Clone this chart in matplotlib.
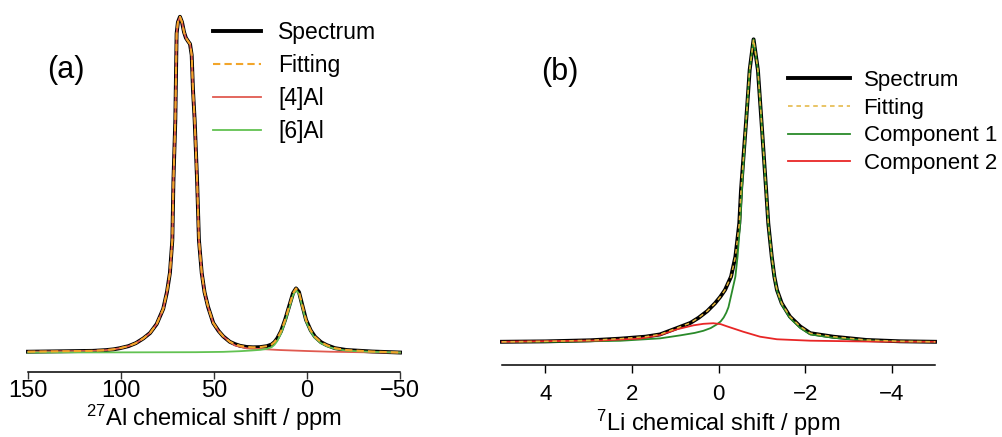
import matplotlib
matplotlib.use("Agg")
import matplotlib.pyplot as plt

plt.rcParams["font.family"] = ["Liberation Sans", "DejaVu Sans"]
plt.rcParams["mathtext.default"] = "regular"

# ---- panel (a): 27Al spectrum (ppm, normalised intensity)
spec_a_ppm = [150, 132.8, 115, 108, 104, 100.5, 96, 92, 88.0, 84.4, 80.8, 77.3, 75.3,
              73.7, 72.4, 71.8, 70.8, 70.1, 69.4, 68.3, 67.2, 66.1, 65.1, 63.8, 62.9,
              62.0, 61.3, 60.4, 59.1, 58.1, 56.6, 55.1, 53.2, 50.4, 47.5, 45.0, 41.5,
              38.7, 36, 32.4, 29, 25.3, 21.5, 19.0, 17.5, 16.0, 14.0, 11.8, 9.1, 7.5,
              5.9, 4.3, 2.8, 0.5, -2, -4.3, -7.5, -10.6, -15, -21.3, -35, -50]
spec_a_int = [0.0024, 0.0036, 0.005, 0.0072, 0.0095, 0.013, 0.019, 0.028, 0.042, 0.058,
              0.085, 0.130, 0.180, 0.237, 0.335, 0.514, 0.692, 0.95, 0.984, 1.0, 0.984,
              0.954, 0.937, 0.926, 0.919, 0.886, 0.782, 0.692, 0.514, 0.335, 0.237,
              0.180, 0.136, 0.088, 0.064, 0.048, 0.032, 0.025, 0.020, 0.0165, 0.0155,
              0.016, 0.019, 0.024, 0.031, 0.042, 0.063, 0.097, 0.147, 0.177, 0.191,
              0.180, 0.147, 0.097, 0.066, 0.047, 0.031, 0.022, 0.013, 0.0074, 0.003, 0.0]
fit_a_ppm = spec_a_ppm
fit_a_int = spec_a_int

al4_ppm = spec_a_ppm[:37] + [38.7, 32.4, 25.0, 14.5, 0.0, -12.4, -30, -50]
al4_int = spec_a_int[:37] + [0.021, 0.0125, 0.0105, 0.0074, 0.0045, 0.0024, 0.0008, 0.0]

al6_ppm = [150, 100, 60, 45, 36, 30, 25, 21.5, 19.0, 17.5, 16.0, 14.0, 11.8, 9.1, 7.5,
           5.9, 4.3, 2.8, 0.5, -2, -4.3, -7.5, -10.6, -15, -21.3, -35, -50]
al6_int = [0.0, 0.0005, 0.001, 0.002, 0.004, 0.006, 0.008, 0.011, 0.016, 0.023, 0.034,
           0.056, 0.09, 0.140, 0.171, 0.186, 0.175, 0.142, 0.092, 0.062, 0.043, 0.028,
           0.019, 0.011, 0.0055, 0.002, 0.0]

# ---- panel (b): 7Li spectrum
spec_b_ppm = [5.0, 4.0, 2.96, 2.27, 1.69, 1.35, 0.96, 0.65, 0.46, 0.26, 0.08, -0.04,
              -0.15, -0.29, -0.39, -0.48, -0.52, -0.64, -0.72, -0.81, -0.91, -0.99,
              -1.10, -1.15, -1.23, -1.29, -1.35, -1.46, -1.65, -1.89, -2.12, -2.65,
              -3.42, -4.19, -5.0]
spec_b_int = [0.0007, 0.002, 0.0056, 0.011, 0.0175, 0.025, 0.046, 0.063, 0.080, 0.102,
              0.128, 0.149, 0.172, 0.216, 0.282, 0.392, 0.502, 0.734, 0.899, 1.0, 0.899,
              0.734, 0.502, 0.392, 0.282, 0.216, 0.172, 0.128, 0.084, 0.051, 0.029,
              0.0175, 0.0066, 0.0023, 0.0007]
fit_b_ppm = spec_b_ppm
fit_b_int = spec_b_int

comp1_ppm = [5.0, 3.65, 2.27, 1.35, 0.88, 0.55, 0.35, 0.18, 0.04, -0.05, -0.12, -0.18,
             -0.23, -0.31, -0.39, -0.44, -0.50, -0.54, -0.64, -0.72, -0.81, -0.91, -0.99,
             -1.10, -1.15, -1.23, -1.29, -1.35, -1.46, -1.65, -1.89, -2.12, -2.65,
             -3.42, -4.19, -5.0]
comp1_int = [0.0, 0.001, 0.004, 0.012, 0.022, 0.030, 0.037, 0.046, 0.058, 0.068, 0.081,
             0.097, 0.115, 0.165, 0.216, 0.282, 0.392, 0.502, 0.734, 0.899, 1.0, 0.899,
             0.734, 0.502, 0.392, 0.282, 0.216, 0.170, 0.124, 0.079, 0.046, 0.025,
             0.014, 0.005, 0.0017, 0.0005]

comp2_ppm = [5.0, 2.73, 1.80, 1.35, 0.96, 0.58, 0.35, 0.12, -0.05, -0.19, -0.57, -0.96,
             -1.35, -2.12, -3.5, -5.0]
comp2_int = [0.0007, 0.005, 0.0116, 0.023, 0.042, 0.055, 0.060, 0.062, 0.059, 0.052,
             0.034, 0.0175, 0.009, 0.0043, 0.0015, 0.0007]

fig = plt.figure(figsize=(10.03, 4.37), dpi=100)

# panel (a)
ax1 = fig.add_axes([28 / 1003, 65 / 437, 372 / 1003, 372 / 437])
ax1.plot(spec_a_ppm, spec_a_int, color="black", lw=2.8, label="Spectrum", clip_on=False)
ax1.plot(al4_ppm, al4_int, color="#e05a50", lw=1.3, label="[4]Al", clip_on=False)
ax1.plot(al6_ppm, al6_int, color="#62c252", lw=1.3, label="[6]Al", clip_on=False)
ax1.plot(fit_a_ppm, fit_a_int, color="#f2a52a", lw=1.5, ls=(0, (3.5, 2)),
         label="Fitting", clip_on=False)
ax1.set_xlim(150, -50)
ax1.set_ylim(-0.058, 1.05)
ax1.set_xticks([150, 100, 50, 0, -50])
ax1.tick_params(axis="x", labelsize=17, length=5, width=1, pad=1, color="#333333")
ax1.set_xlabel(r"$^{27}$Al chemical shift / ppm", fontsize=17, labelpad=0)
fig.text(66 / 1003, 1 - 70 / 437, "(a)", fontsize=22, ha="center", va="center")
h, l = ax1.get_legend_handles_labels()
order = [0, 3, 1, 2]
ax1.legend([h[i] for i in order], [l[i] for i in order], loc="upper left",
           bbox_to_anchor=(213 / 1003, 1 - 21 / 437), bbox_transform=fig.transFigure,
           frameon=False, fontsize=16.5, handlelength=2.1, handletextpad=0.75,
           labelspacing=0.44, borderpad=0, borderaxespad=0)

# panel (b)
ax2 = fig.add_axes([502 / 1003, 72 / 437, 433 / 1003, 365 / 437])
ax2.plot(spec_b_ppm, spec_b_int, color="black", lw=2.8, label="Spectrum", clip_on=False)
ax2.plot(comp1_ppm, comp1_int, color="#2a8a2a", lw=1.3, label="Component 1", clip_on=False)
ax2.plot(comp2_ppm, comp2_int, color="#e82626", lw=1.3, label="Component 2", clip_on=False)
ax2.plot(fit_b_ppm, fit_b_int, color="#e3b43c", lw=1.1, ls=(0, (3, 2.5)),
         label="Fitting", clip_on=False)
ax2.set_xlim(5, -5)
ax2.set_ylim(-0.076, 1.13)
ax2.set_xticks([4, 2, 0, -2, -4])
ax2.tick_params(axis="x", labelsize=16, length=6, width=1, pad=8)
ax2.set_xlabel(r"$^{7}$Li chemical shift / ppm", fontsize=17, labelpad=2)
fig.text(560 / 1003, 1 - 72 / 437, "(b)", fontsize=22, ha="center", va="center")
h, l = ax2.get_legend_handles_labels()
ax2.legend([h[i] for i in order], [l[i] for i in order], loc="upper left",
           bbox_to_anchor=(788 / 1003, 1 - 70 / 437), bbox_transform=fig.transFigure,
           frameon=False, fontsize=16, handlelength=2.8, handletextpad=0.6,
           labelspacing=0.3, borderpad=0, borderaxespad=0)

for ax in (ax1, ax2):
    for s in ("top", "left", "right"):
        ax.spines[s].set_visible(False)
    ax.spines["bottom"].set_linewidth(1.1)
    ax.set_yticks([])
    ax.patch.set_alpha(0)

fig.savefig("out.png", dpi=100)
